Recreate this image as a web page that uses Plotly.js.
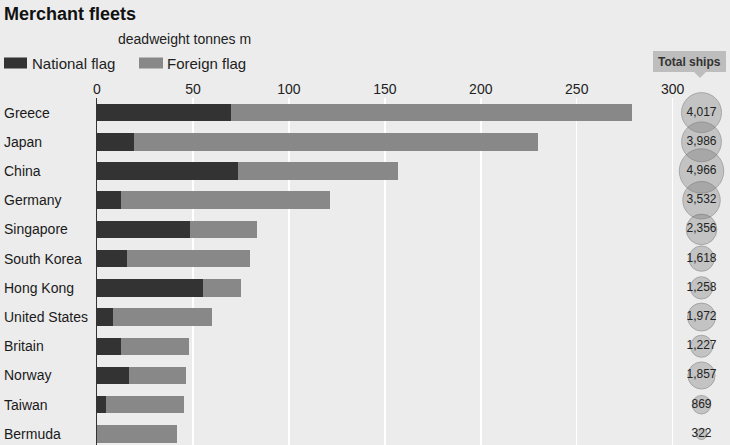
<!DOCTYPE html>
<html>
<head>
<meta charset="utf-8">
<script src="https://cdn.plot.ly/plotly-3.0.1.min.js"></script>
<style>html,body{margin:0;padding:0;background:#ececec;}#chart{width:730px;height:445px;}</style>
</head>
<body>
<div id="chart"></div>
<script>
// ---- data ----
const countries = ["Greece","Japan","China","Germany","Singapore","South Korea","Hong Kong","United States","Britain","Norway","Taiwan","Bermuda"];
const nationalFlag = [70, 19.5, 73.4, 12.3, 48.4, 15.6, 55.4, 8.3, 12.3, 16.7, 4.5, 0];
const foreignFlag = [209, 210.5, 83.6, 109.3, 35.1, 64.1, 19.6, 51.5, 35.9, 29.6, 40.8, 41.9];
const totalShips = [4017, 3986, 4966, 3532, 2356, 1618, 1258, 1972, 1227, 1857, 869, 322];
const xTicks = [0, 50, 100, 150, 200, 250, 300];

// ---- layout helpers ----
const W = 730, H = 445, ML = 97, MR = 0, MT = 98, MB = 0;
const PW = W - ML - MR, PH = H - MT - MB;
const FONT = "Liberation Sans, Arial, sans-serif";
const px = x => (x - ML) / PW;          // pixel -> paper x
const py = y => (H - MB - y) / PH;      // pixel -> paper y

const traces = [
  {type: 'bar', orientation: 'h', name: 'National flag', y: countries, x: nationalFlag,
   marker: {color: '#333333', line: {width: 0}}, width: 0.6, hoverinfo: 'x+y'},
  {type: 'bar', orientation: 'h', name: 'Foreign flag', y: countries, x: foreignFlag,
   marker: {color: '#888888', line: {width: 0}}, width: 0.6, hoverinfo: 'x+y'},
  {type: 'scatter', mode: 'markers+text', xaxis: 'x2', yaxis: 'y',
   y: countries, x: countries.map(() => 0),
   text: totalShips.map(v => v.toLocaleString('en-US')),
   textposition: 'middle center', cliponaxis: false,
   textfont: {family: FONT, size: 12, color: '#222'},
   marker: {size: totalShips, sizemode: 'area', sizeref: 2 * 4017 / 1600,
            color: 'rgba(112,112,112,0.46)', line: {color: 'rgba(95,95,95,0.6)', width: 1}},
   showlegend: false, hoverinfo: 'text'}
];

const annotations = [
  {text: 'deadweight tonnes m', xref: 'paper', yref: 'paper', x: px(184.5), y: py(39),
   xanchor: 'center', yanchor: 'middle', showarrow: false, font: {family: FONT, size: 14, color: '#222'}},
  {text: 'National flag', xref: 'paper', yref: 'paper', x: px(30), y: py(63),
   xanchor: 'left', yanchor: 'middle', showarrow: false, font: {family: FONT, size: 15, color: '#222'}},
  {text: 'Foreign flag', xref: 'paper', yref: 'paper', x: px(165), y: py(63),
   xanchor: 'left', yanchor: 'middle', showarrow: false, font: {family: FONT, size: 15, color: '#222'}},
  {text: '<b>Total ships</b>', xref: 'paper', yref: 'paper', x: px(689.5), y: py(61.5),
   xanchor: 'center', yanchor: 'middle', showarrow: false, font: {family: FONT, size: 12, color: '#333'}}
];
countries.forEach(c => annotations.push({
  text: c, xref: 'paper', yref: 'y', x: px(2), y: c, xanchor: 'left', yanchor: 'middle',
  showarrow: false, font: {family: FONT, size: 14, color: '#1a1a1a'}
}));

const shapes = [
  {type: 'rect', xref: 'paper', yref: 'paper', x0: px(4), x1: px(27), y0: py(57.5), y1: py(68.5),
   fillcolor: '#333333', line: {width: 0}},
  {type: 'rect', xref: 'paper', yref: 'paper', x0: px(139), x1: px(163), y0: py(57.5), y1: py(68.5),
   fillcolor: '#888888', line: {width: 0}},
  {type: 'rect', xref: 'paper', yref: 'paper', x0: px(653), x1: px(726), y0: py(51), y1: py(72),
   fillcolor: '#bdbdbd', line: {width: 0}},
  {type: 'path', xref: 'paper', yref: 'paper',
   path: `M${px(694)},${py(72)} L${px(706)},${py(72)} L${px(700)},${py(78)} Z`,
   fillcolor: '#bdbdbd', line: {width: 0}}
];

const layout = {
  width: W, height: H,
  margin: {l: ML, r: MR, t: MT, b: MB, pad: 0},
  paper_bgcolor: '#ececec', plot_bgcolor: '#ececec',
  barmode: 'stack', showlegend: false,
  title: {text: '<b>Merchant fleets</b>', font: {family: FONT, size: 18, color: '#111'},
          xref: 'container', yref: 'container', x: 4 / W, xanchor: 'left', y: 1 - 14 / H, yanchor: 'middle'},
  xaxis: {domain: [0, 577.6 / PW], range: [0, 301], side: 'top', tickvals: xTicks,
          showgrid: true, gridcolor: '#ffffff', gridwidth: 1.5, zeroline: false, showline: false,
          ticks: '', tickfont: {family: FONT, size: 14, color: '#222'}, fixedrange: true},
  xaxis2: {domain: [0.91, 1], range: [-1, 1], visible: false, anchor: 'y', fixedrange: true},
  yaxis: {type: 'category', categoryarray: countries, range: [11.38, -0.5],
          showticklabels: false, showgrid: false, zeroline: false,
          showline: true, linecolor: '#333333', linewidth: 1.5, ticks: '', fixedrange: true},
  annotations: annotations, shapes: shapes
};

Plotly.newPlot('chart', traces, layout, {displayModeBar: false, staticPlot: true});
</script>
</body>
</html>
